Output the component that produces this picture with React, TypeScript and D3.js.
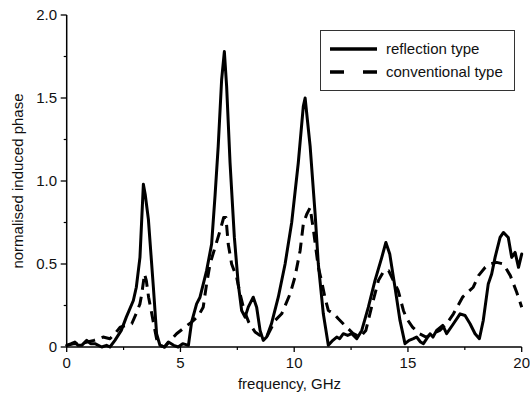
import React from "react";
import * as d3 from "d3";

const reflFreq = [0, 0.2, 0.36, 0.5, 0.66, 0.88, 1.05, 1.24, 1.54, 1.75, 1.9, 2.12, 2.4, 2.62, 2.93, 3.06, 3.22, 3.37, 3.45, 3.59, 3.81, 3.95, 4.1, 4.3, 4.47, 4.7, 4.9, 5.1, 5.35, 5.49, 5.71, 5.86, 6.15, 6.37, 6.52, 6.66, 6.81, 6.93, 7.03, 7.18, 7.37, 7.54, 7.69, 7.84, 7.98, 8.2, 8.35, 8.5, 8.64, 8.79, 9.0, 9.3, 9.6, 9.89, 10.18, 10.4, 10.48, 10.7, 10.92, 11.06, 11.28, 11.5, 11.7, 11.87, 12.0, 12.16, 12.35, 12.53, 12.75, 12.97, 13.26, 13.55, 13.85, 14.03, 14.2, 14.43, 14.65, 14.87, 15.05, 15.24, 15.38, 15.55, 15.68, 15.97, 16.1, 16.26, 16.53, 16.7, 17.0, 17.29, 17.51, 17.73, 17.95, 18.14, 18.31, 18.53, 18.68, 18.83, 19.05, 19.2, 19.41, 19.56, 19.71, 19.86, 20.0];
const reflValues = [0.01, 0.02, 0.03, 0.01, 0.01, 0.04, 0.02, 0.02, 0.0, 0.01, 0.0, 0.04, 0.1, 0.18, 0.28, 0.36, 0.54, 0.98, 0.92, 0.77, 0.36, 0.08, 0.01, 0.0, 0.03, 0.01, 0.0, 0.02, 0.01, 0.15, 0.26, 0.3, 0.46, 0.62, 0.91, 1.21, 1.61, 1.78, 1.57, 1.11, 0.66, 0.38, 0.22, 0.18, 0.24, 0.3, 0.24, 0.1, 0.04, 0.06, 0.14, 0.3, 0.5, 0.75, 1.11, 1.45, 1.5, 1.21, 0.8, 0.5, 0.2, 0.01, 0.04, 0.06, 0.05, 0.08, 0.07, 0.08, 0.05, 0.1, 0.24, 0.4, 0.54, 0.63, 0.56, 0.36, 0.16, 0.02, 0.04, 0.05, 0.06, 0.03, 0.02, 0.08, 0.06, 0.1, 0.13, 0.08, 0.14, 0.2, 0.19, 0.14, 0.08, 0.05, 0.16, 0.38, 0.44, 0.54, 0.66, 0.69, 0.66, 0.54, 0.57, 0.48, 0.56];

const convFreq = [0, 0.3, 0.6, 0.9, 1.2, 1.6, 1.9, 2.12, 2.35, 2.86, 3.05, 3.22, 3.3, 3.42, 3.5, 3.6, 3.74, 3.85, 3.95, 4.1, 4.3, 4.5, 4.83, 5.2, 5.49, 5.8, 6.0, 6.15, 6.3, 6.52, 6.74, 6.9, 7.0, 7.1, 7.25, 7.47, 7.62, 7.8, 8.0, 8.28, 8.5, 8.79, 9.16, 9.45, 9.82, 10.03, 10.26, 10.4, 10.55, 10.7, 10.85, 11.06, 11.2, 11.35, 11.5, 11.75, 11.94, 12.3, 12.6, 12.9, 13.15, 13.4, 13.7, 13.95, 14.15, 14.36, 14.57, 14.8, 14.95, 15.2, 15.5, 15.8, 16.1, 16.4, 16.7, 17.0, 17.2, 17.4, 17.87, 18.1, 18.4, 18.6, 18.9, 19.2, 19.5, 19.78, 20.0];
const convValues = [0.01, 0.02, 0.02, 0.03, 0.04, 0.06, 0.05, 0.08, 0.12, 0.14, 0.2, 0.26, 0.32, 0.44, 0.4, 0.3, 0.2, 0.12, 0.05, 0.01, 0.0, 0.03, 0.08, 0.12, 0.15, 0.19, 0.24, 0.38, 0.5, 0.6, 0.7, 0.78, 0.78, 0.62, 0.5, 0.42, 0.32, 0.22, 0.15, 0.09, 0.07, 0.06, 0.16, 0.2, 0.32, 0.42, 0.58, 0.74, 0.8, 0.84, 0.7, 0.48, 0.4, 0.3, 0.22, 0.2, 0.17, 0.12, 0.08, 0.06, 0.1, 0.24, 0.4, 0.46, 0.46, 0.4, 0.34, 0.22, 0.17, 0.12, 0.08, 0.06, 0.08, 0.1, 0.14, 0.2, 0.25, 0.3, 0.36, 0.43, 0.48, 0.5, 0.51, 0.5, 0.43, 0.33, 0.24];

const xMajorTicks = [0, 5, 10, 15, 20];
const xMinorTicks = [2.5, 7.5, 12.5, 17.5];
const yMajorTicks = [0, 0.5, 1.0, 1.5, 2.0];
const yMinorTicks = [0.25, 0.75, 1.25, 1.75];
const yTickLabels = ["0", "0.5", "1.0", "1.5", "2.0"];
const legendLabels = ["reflection type", "conventional type"];
const xTitle = "frequency, GHz";
const yTitle = "normalised induced phase";

const FONT = "'Liberation Sans', Arial, Helvetica, sans-serif";

export default function App() {
  const x = d3.scaleLinear().domain([0, 20]).range([66.7, 521.7]);
  const y = d3.scaleLinear().domain([0, 2]).range([347, 15]);

  const line = d3
    .line<[number, number]>()
    .x((d) => x(d[0]))
    .y((d) => y(d[1]));

  const reflPts = reflFreq.map((f, i) => [f, reflValues[i]] as [number, number]);
  const convPts = convFreq.map((f, i) => [f, convValues[i]] as [number, number]);

  return (
    <svg
      width={530}
      height={395}
      style={{ position: "absolute", left: 0, top: 0, background: "#fff" }}
      fontFamily={FONT}
    >
      <rect x={0} y={0} width={530} height={395} fill="#fff" />
      {/* axes */}
      <line x1={x(0)} x2={x(0)} y1={y(2)} y2={y(0)} stroke="#000" strokeWidth={1.5} />
      <line x1={x(0)} x2={x(20)} y1={y(0)} y2={y(0)} stroke="#000" strokeWidth={1.5} />
      {xMajorTicks.map((t) => (
        <g key={"xt" + t}>
          <line x1={x(t)} x2={x(t)} y1={y(0)} y2={y(0) + 5} stroke="#000" strokeWidth={1.3} />
          <text x={x(t)} y={368} fontSize={15} textAnchor="middle" fill="#111">
            {t}
          </text>
        </g>
      ))}
      {xMinorTicks.map((t) => (
        <line key={"xm" + t} x1={x(t)} x2={x(t)} y1={y(0)} y2={y(0) + 3} stroke="#000" strokeWidth={1.2} />
      ))}
      {yMajorTicks.map((t, i) => (
        <g key={"yt" + t}>
          <line x1={x(0) - 6} x2={x(0)} y1={y(t)} y2={y(t)} stroke="#000" strokeWidth={1.3} />
          <text x={57} y={y(t) + 5} fontSize={15} textAnchor="end" fill="#111">
            {yTickLabels[i]}
          </text>
        </g>
      ))}
      {yMinorTicks.map((t) => (
        <line key={"ym" + t} x1={x(0) - 3} x2={x(0)} y1={y(t)} y2={y(t)} stroke="#000" strokeWidth={1.2} />
      ))}
      <text x={289.5} y={389} fontSize={15} textAnchor="middle" fill="#111">
        {xTitle}
      </text>
      <text
        transform={`translate(23, ${(y(0) + y(2)) / 2}) rotate(-90)`}
        fontSize={15}
        textAnchor="middle"
        fill="#111"
      >
        {yTitle}
      </text>

      {/* curves */}
      <path d={line(convPts) || ""} fill="none" stroke="#000" strokeWidth={3} strokeDasharray="11,7" strokeLinejoin="round" />
      <path d={line(reflPts) || ""} fill="none" stroke="#000" strokeWidth={3} strokeLinejoin="round" strokeLinecap="round" />

      {/* legend */}
      <rect x={320.5} y={30.5} width={194} height={60} fill="#fff" stroke="#333" strokeWidth={1} />
      <line x1={330} x2={377} y1={49} y2={49} stroke="#000" strokeWidth={3.5} />
      <line x1={330} x2={377} y1={72} y2={72} stroke="#000" strokeWidth={3.5} strokeDasharray="14,19" />
      <text x={386} y={54} fontSize={15} fill="#111">
        {legendLabels[0]}
      </text>
      <text x={386} y={77} fontSize={15} fill="#111">
        {legendLabels[1]}
      </text>
    </svg>
  );
}
